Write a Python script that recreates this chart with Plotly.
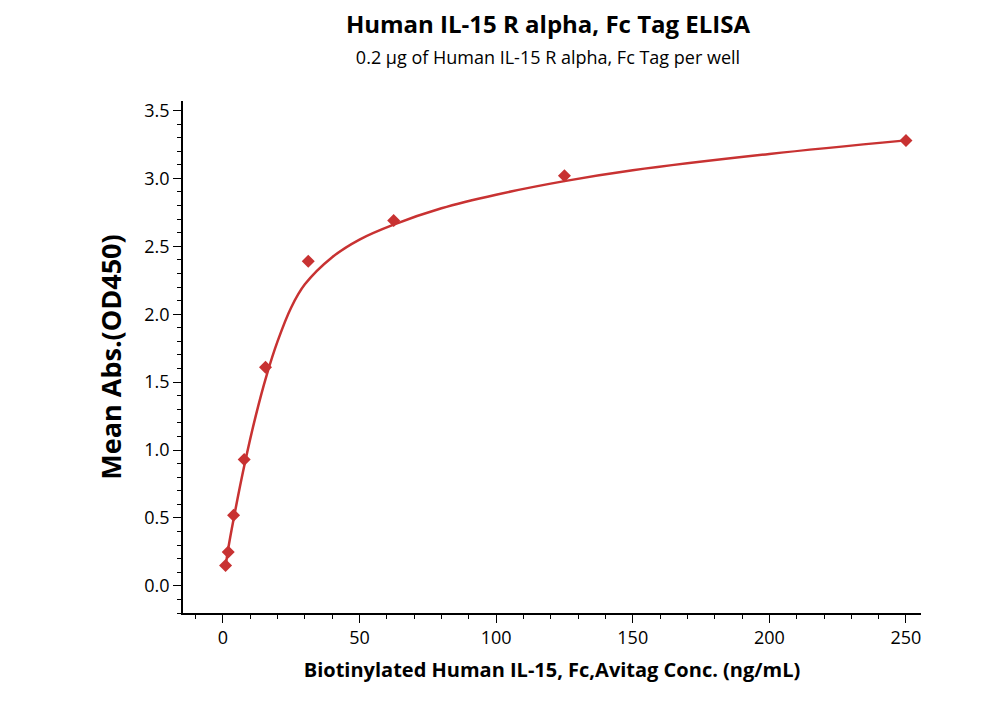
import plotly.graph_objects as go

# measured points
conc = [0.98, 1.95, 3.9, 7.8, 15.6, 31.25, 62.5, 125, 250]
od450 = [0.15, 0.25, 0.52, 0.93, 1.61, 2.39, 2.69, 3.02, 3.28]

# fitted curve
fit_x = [0.98, 2, 4, 8, 12, 16, 20, 25, 30, 40, 50, 62.5, 80, 100, 125, 150, 200, 250]
fit_y = [0.14, 0.28, 0.5, 0.9, 1.25, 1.55, 1.8, 2.05, 2.22, 2.42, 2.55, 2.66, 2.78, 2.88, 2.98, 3.06, 3.18, 3.28]

red = '#c83232'
fig = go.Figure()
fig.add_trace(go.Scatter(x=fit_x, y=fit_y, mode='lines', line=dict(color=red, width=2.5, shape='spline'),
                         hoverinfo='skip'))
fig.add_trace(go.Scatter(x=conc, y=od450, mode='markers',
                         marker=dict(symbol='diamond', size=10, color=red)))

axis_common = dict(showline=True, linecolor='black', linewidth=1.5, ticks='outside', ticklen=8,
                   tickcolor='black', showgrid=False, zeroline=False,
                   tickfont=dict(family='Open Sans', size=18, color='black'),
                   minor=dict(ticks='outside', ticklen=4, tickcolor='black'))

fig.update_layout(
    width=1000, height=714, showlegend=False,
    plot_bgcolor='white', paper_bgcolor='white',
    margin=dict(l=175, r=87, t=93, b=109),
    title=dict(text='<b>Human IL-15 R alpha, Fc Tag ELISA</b><br>'
                    '<span style="font-size:18px">0.2 μg of Human IL-15 R alpha, Fc Tag per well</span>',
               x=0.54, xanchor='center', y=0.965, yanchor='top',
               font=dict(family='Open Sans', size=24, color='black')),
    xaxis=dict(axis_common, range=[-14.6, 255.5], dtick=50,
               title=dict(text='<b>Biotinylated Human IL-15, Fc,Avitag Conc. (ng/mL)</b>',
                          font=dict(family='Open Sans', size=20, color='black'))),
    yaxis=dict(axis_common, range=[-0.2, 3.57], dtick=0.5, tickformat='.1f',
               title=dict(text='<b>Mean Abs.(OD450)</b>',
                          font=dict(family='Open Sans', size=27, color='black'))),
)

fig.write_html("out.html")
